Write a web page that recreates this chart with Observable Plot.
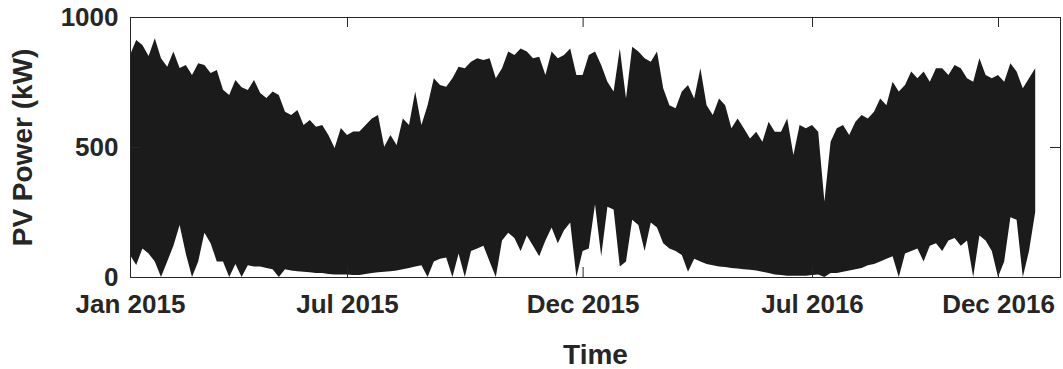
<!DOCTYPE html>
<html><head><meta charset="utf-8">
<script src="https://cdn.jsdelivr.net/npm/d3@7"></script>
<script src="https://cdn.jsdelivr.net/npm/@observablehq/plot@0.6"></script>
<style>body{margin:0;background:#fff}</style>
</head><body><div id="chart"></div>
<script>
// samples every 5 days, Jan 2015 → end 2016 (upper / lower envelope of hourly PV power, kW)
const stepDays = 5;
const upper = [
  854,912,892,850,918,841,809,867,804,815,777,822,815,785,796,720,700,758,730,719,
  758,708,688,713,700,636,623,642,585,604,578,585,546,496,573,546,560,560,
  585,610,623,501,546,508,610,585,713,585,661,764,738,732,764,809,803,828,841,835,
  841,764,803,867,854,879,867,841,847,777,867,841,854,879,777,777,
  854,867,815,751,713,879,687,886,867,841,828,867,726,661,649,713,738,687,803,661,
  623,687,661,572,610,572,533,559,520,597,559,559,610,469,585,572,585,
  559,290,520,572,585,546,597,623,610,636,687,661,751,713,738,790,764,790,751,803,
  803,777,815,803,764,751,841,777,764,777,751,822,790,726,764,803
];
const lower = [
  85,46,110,90,60,0,60,120,200,90,0,60,170,130,60,60,0,50,0,45,
  40,40,35,30,0,30,25,22,20,18,15,15,12,10,10,10,8,8,
  12,15,18,20,22,25,30,35,40,45,0,60,70,75,0,90,0,100,110,120,
  60,0,140,170,150,100,160,120,80,140,190,130,180,210,0,100,
  110,280,80,270,260,40,60,220,200,100,210,190,130,110,100,85,20,70,60,50,
  45,40,38,35,33,30,28,25,20,15,10,8,5,5,5,5,8,
  10,0,15,15,20,25,30,35,45,50,60,70,80,0,90,100,110,60,120,130,
  100,140,150,120,140,0,160,140,100,0,60,230,220,0,100,250
];
const tickDays = [0, 175, 365, 550, 700];
const tickLabels = ["Jan 2015", "Jul 2015", "Dec 2015", "Jul 2016", "Dec 2016"];
const yTicks = [0, 500, 1000];
const xTitle = "Time";
const yTitle = "PV Power (kW)";

const data = upper.map((u, i) => ({day: i * stepDays, upper: u, lower: lower[i]}));
const ink = "#262626";

const chart = Plot.plot({
  width: 1063, height: 369,
  marginLeft: 130, marginRight: 3, marginTop: 17, marginBottom: 92,
  style: {fontFamily: "'Liberation Sans', Arial, sans-serif", fontWeight: "bold", color: ink, background: "#fff", overflow: "visible"},
  x: {domain: [0, 750]},
  y: {domain: [0, 1000]},
  marks: [
    Plot.areaY(data, {x: "day", y1: "lower", y2: "upper", fill: "#1b1b1b"}),
    Plot.ruleX(tickDays.slice(1), {stroke: ink, insetTop: 250}),
    Plot.ruleX(tickDays.slice(1), {stroke: ink, insetBottom: 250}),
    Plot.ruleY([yTicks[1]], {stroke: ink, insetLeft: 920}),
    Plot.ruleY([yTicks[1]], {stroke: ink, insetRight: 920}),
    Plot.frame({stroke: ink}),
    Plot.axisX({ticks: tickDays, tickFormat: (d, i) => tickLabels[i], tickSize: 0, tickPadding: 17, fontSize: 26, label: null}),
    Plot.axisY({ticks: yTicks, tickFormat: d => String(d), tickSize: 0, tickPadding: 12, fontSize: 26, label: null}),
    Plot.text([xTitle], {frameAnchor: "bottom", dy: 86, lineAnchor: "bottom", fontSize: 28, fontWeight: "bold", fill: ink}),
    Plot.text([yTitle], {frameAnchor: "left", dx: -107, textAnchor: "middle", lineAnchor: "middle", rotate: -90, fontSize: 28, fontWeight: "bold", fill: ink})
  ]
});
document.getElementById("chart").appendChild(chart);
</script>
</body></html>
